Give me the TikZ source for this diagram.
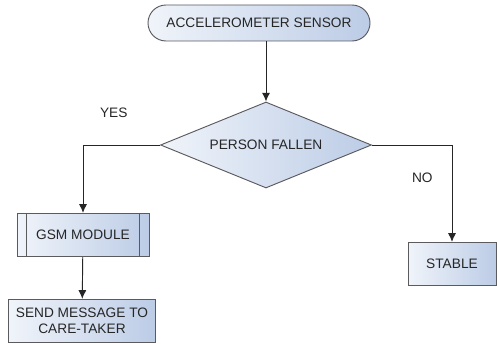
\documentclass[tikz,border=0pt]{standalone}
\usepackage{fontspec}
\setmainfont{Liberation Sans}
\usepackage{xcolor}
\usepackage{tikz}
\usetikzlibrary{arrows.meta,positioning,shapes.geometric}

\definecolor{boxlight}{RGB}{240,244,250}
\definecolor{boxdark}{RGB}{188,204,230}
\definecolor{boxline}{RGB}{90,90,95}

\begin{document}
\begin{tikzpicture}[
  x=0.03cm, y=-0.03cm,
  font=\fontsize{11.7}{13.5}\selectfont,
  every node/.style={text=black!85},
  shade/.style={draw=boxline, line width=0.8pt, left color=boxlight, right color=boxdark},
  term/.style={shade, rounded corners=0.54cm, minimum width=6.66cm, minimum height=1.08cm},
  box/.style={shade, align=center, minimum height=1.3cm, inner sep=1pt},
  decide/.style={shade, diamond, aspect=2.45, inner sep=1pt, minimum width=6.33cm, minimum height=2.58cm},
  arr/.style={-{Latex[length=2.6mm, width=2.4mm]}, line width=0.8pt, draw=black!85}
]
\useasboundingbox (0,0) rectangle (497,344);

\node[term] (sensor) at (259,23) {ACCELEROMETER SENSOR};
\node[decide] (fallen) at (266,145) {PERSON FALLEN};
\node[box, minimum width=3.96cm] (gsm) at (83,235) {GSM MODULE};
\node[box, minimum width=4.41cm] (send) at (82,321) {SEND MESSAGE TO\\CARE-TAKER};
\node[box, minimum width=2.64cm] (stable) at (452,264) {STABLE};

% side bars of the predefined process
\draw[boxline, line width=0.8pt] ([xshift=0.3cm]gsm.north west) -- ([xshift=0.3cm]gsm.south west);
\draw[boxline, line width=0.8pt] ([xshift=-0.3cm]gsm.north east) -- ([xshift=-0.3cm]gsm.south east);

\draw[arr] (fallen.north |- sensor.south) -- (fallen.north);
\draw[arr] (fallen.west) -| node[pos=0.3, above=0.69cm] {YES} (gsm.north);
\draw[arr] (fallen.east) -| node[pos=0.67, left=0.45cm] {NO} (stable.north);
\draw[arr] (gsm) -- (send);
\end{tikzpicture}
\end{document}
